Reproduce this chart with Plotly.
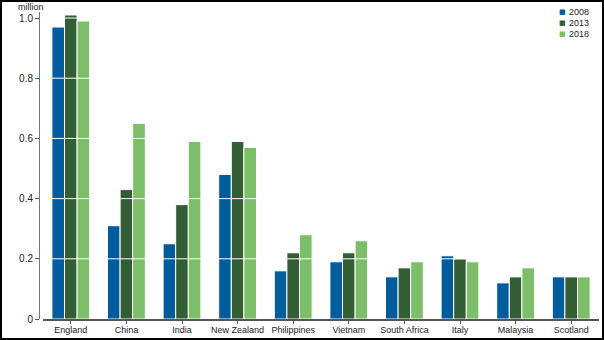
import plotly.graph_objects as go

countries = ["England", "China", "India", "New Zealand", "Philippines", "Vietnam",
             "South Africa", "Italy", "Malaysia", "Scotland"]
years = ["2008", "2013", "2018"]
v2008 = [0.97, 0.31, 0.25, 0.48, 0.16, 0.19, 0.14, 0.21, 0.12, 0.14]
v2013 = [1.01, 0.43, 0.38, 0.59, 0.22, 0.22, 0.17, 0.20, 0.14, 0.14]
v2018 = [0.99, 0.65, 0.59, 0.57, 0.28, 0.26, 0.19, 0.19, 0.17, 0.14]
colors = ["#005c9c", "#335e35", "#7cbf68"]
yticks = [0, 0.2, 0.4, 0.6, 0.8, 1.0]
ytick_labels = ["0", "0.2", "0.4", "0.6", "0.8", "1.0"]

FONT = "Liberation Sans Narrow, Arial Narrow, Liberation Sans, Arial, sans-serif"
W, H = 604, 340
L, R, T, B = 39, 5, 12, 21
PW, PH = W - L - R, H - T - B

fig = go.Figure()
for name, vals, col in zip(years, [v2008, v2013, v2018], colors):
    fig.add_trace(go.Bar(x=countries, y=vals, name=name, marker_color=col,
                         marker_line=dict(color="white", width=1), showlegend=False))

shapes = []
for v in yticks[1:]:
    shapes.append(dict(type="line", xref="x domain", yref="y", x0=0, x1=1, y0=v, y1=v,
                       line=dict(color="white", width=1), layer="above"))
# outer frame
shapes.append(dict(type="rect", xref="paper", yref="paper",
                   x0=(1 - L) / PW, x1=(W - 1 - L) / PW,
                   y0=-(H - 1 - (H - B)) / PH, y1=1 + (T - 1) / PH,
                   line=dict(color="black", width=2), fillcolor="rgba(0,0,0,0)", layer="above"))

annotations = [dict(text="million", xref="paper", yref="paper",
                    x=(16 - L) / PW, y=1 + (T - 7) / PH, xanchor="left", yanchor="middle",
                    showarrow=False, font=dict(family=FONT, size=9, color="#222"))]
leg_y = [12, 23, 34]
for name, col, py in zip(years, colors, leg_y):
    yy = 1 - (py - T) / PH
    annotations.append(dict(text="■", xref="paper", yref="paper", x=(557 - L) / PW, y=yy,
                            xanchor="left", yanchor="middle", showarrow=False,
                            font=dict(family="DejaVu Sans", size=7, color=col)))
    annotations.append(dict(text=name, xref="paper", yref="paper", x=(567 - L) / PW, y=yy,
                            xanchor="left", yanchor="middle", showarrow=False,
                            font=dict(family=FONT, size=9, color="#222")))

fig.update_layout(
    width=W, height=H, margin=dict(l=L, r=R, t=T, b=B, autoexpand=False),
    paper_bgcolor="white", plot_bgcolor="white",
    barmode="group", bargap=0.32, bargroupgap=0,
    font=dict(family=FONT, size=9, color="#222"),
    shapes=shapes, annotations=annotations,
    xaxis=dict(domain=[4 / PW, 1], showgrid=False, showline=True, linecolor="#555", linewidth=1.5,
               ticks="outside", ticklen=3, tickcolor="#555", tickangle=0, automargin=False,
               ticklabelstandoff=-2, tickfont=dict(size=9)),
    yaxis=dict(range=[0, 1.02], anchor="free", position=0, tickvals=yticks, ticktext=ytick_labels,
               showgrid=False, zeroline=False, showline=True, linecolor="#777", linewidth=1,
               ticks="outside", ticklen=4, tickcolor="#555", automargin=False,
               tickfont=dict(size=10)),
)
fig.write_html("out.html")
